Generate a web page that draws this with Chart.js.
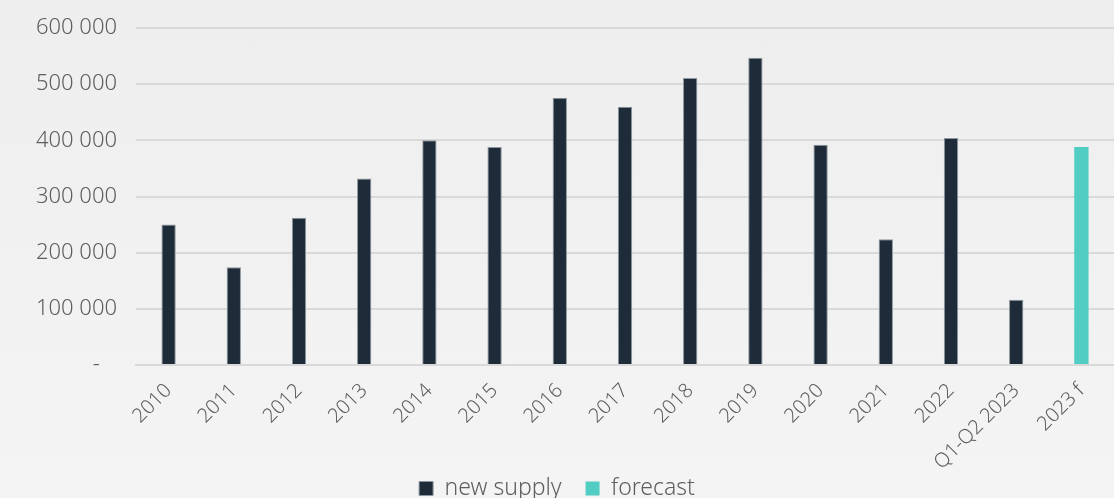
<!DOCTYPE html>
<html>
<head>
<meta charset="utf-8">
<script src="https://cdn.jsdelivr.net/npm/chart.js@4.4.1/dist/chart.umd.min.js"></script>
<style>
  html, body { margin: 0; padding: 0; }
  body { width: 1114px; height: 498px; background: linear-gradient(#eeeeee, #f4f4f4); overflow: hidden; }
  #wrap { position: relative; width: 1114px; height: 498px; }
</style>
</head>
<body>
<div id="wrap"><canvas id="grafico"></canvas></div>
<script>
// ========== DADOS ==========
const categorias = ['2010', '2011', '2012', '2013', '2014', '2015', '2016', '2017', '2018', '2019', '2020', '2021', '2022', 'Q1-Q2 2023', '2023 f'];
const novaOferta = [250000, 174000, 262000, 332000, 400000, 388000, 476000, 460000, 511000, 547000, 392000, 224000, 404000, 116000, null];
const previsao   = [null, null, null, null, null, null, null, null, null, null, null, null, null, null, 388000];
const ticksY = [0, 100000, 200000, 300000, 400000, 500000, 600000];

const corTexto = '#5e5e5e';
const fonte = "'Noto Sans', 'Open Sans', sans-serif";

function formatarNumero(v) {
    if (v === 0) return '-   ';
    return String(v).replace(/\B(?=(\d{3})+(?!\d))/g, ' ');
}

// ========== CRIAR GRÁFICO ==========
const ctx = document.getElementById('grafico').getContext('2d');
new Chart(ctx, {
    type: 'bar',
    data: {
        labels: categorias,
        datasets: [
            {
                label: 'new supply',
                data: novaOferta,
                backgroundColor: '#1e2b38',
                borderColor: '#8e979f',
                borderWidth: 1,
                barPercentage: 0.22,
                categoryPercentage: 1
            },
            {
                label: 'forecast',
                data: previsao,
                backgroundColor: '#52cdc4',
                borderWidth: 0,
                barPercentage: 0.22,
                categoryPercentage: 1
            }
        ]
    },
    options: {
        responsive: true,
        maintainAspectRatio: false,
        animation: false,
        layout: { padding: { left: 0, right: 0, top: 28, bottom: -12 } },
        scales: {
            x: {
                stacked: true,
                grid: { display: false, drawTicks: false },
                border: { display: true, color: '#d9d9d9', width: 2 },
                ticks: {
                    color: corTexto,
                    font: { family: fonte, size: 20, weight: '300' },
                    minRotation: 45,
                    maxRotation: 45,
                    padding: 14
                },
                afterFit: s => { s.height = 112; s.paddingLeft = 0; s.paddingRight = 0; }
            },
            y: {
                stacked: true,
                min: 0,
                max: 600000,
                afterBuildTicks: axis => { axis.ticks = ticksY.map(v => ({ value: v })); },
                grid: { color: '#d9d9d9', lineWidth: 2, drawTicks: false },
                border: { display: false },
                ticks: {
                    color: corTexto,
                    font: { family: fonte, size: 22, weight: '300' },
                    padding: 19,
                    callback: v => formatarNumero(v)
                },
                afterFit: s => { s.width = 136; s.paddingTop = 0; s.paddingBottom = 0; }
            }
        },
        plugins: {
            legend: {
                position: 'bottom',
                labels: {
                    color: corTexto,
                    font: { family: fonte, size: 23, weight: '300' },
                    boxWidth: 14,
                    boxHeight: 14,
                    padding: 0,
                    useBorderRadius: false,
                    generateLabels: chart => Chart.defaults.plugins.legend.labels.generateLabels(chart)
                        .map((l, i) => ({ ...l, text: i === 0 ? l.text + '    ' : l.text }))
                }
            },
            tooltip: { enabled: false }
        }
    }
});
</script>
</body>
</html>
